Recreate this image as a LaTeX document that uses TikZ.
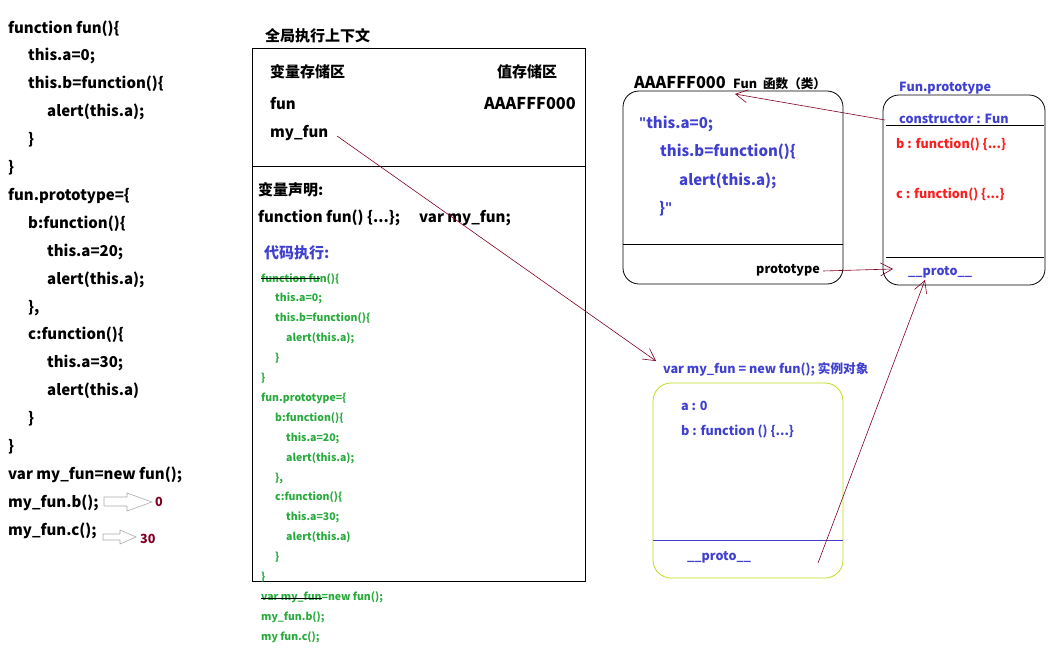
\documentclass[tikz,border=0pt]{standalone}
\usepackage{fontspec}
\setmainfont{Noto Sans CJK SC}
\newfontfamily\qf{Open Sans}
\usetikzlibrary{arrows.meta}
\definecolor{tblue}{RGB}{64,64,208}
\definecolor{tred}{RGB}{250,30,30}
\definecolor{dred}{RGB}{128,0,32}
\definecolor{tgreen}{RGB}{40,170,60}
\definecolor{ygreen}{RGB}{190,222,30}
\definecolor{hgray}{RGB}{170,170,170}
\begin{document}
\begin{tikzpicture}[x=1pt,y=-1pt,
  every node/.style={inner sep=0pt,anchor=base west},
  code/.style={font=\bfseries\fontsize{15}{18}\selectfont},
  gcode/.style={font=\bfseries\fontsize{10.5}{12}\selectfont,text=tgreen},
  lbl/.style={font=\bfseries\fontsize{12.6}{14}\selectfont},
  addr/.style={font=\bfseries\fontsize{16.3}{18}\selectfont},
  bcode/.style={code,text=tblue},
  blbl/.style={lbl,text=tblue},
  rlbl/.style={lbl,text=tred},
  box/.style={draw=black,line width=0.8pt},
  rbox/.style={draw=black,line width=0.8pt,rounded corners=16pt},
  link/.style={draw=dred,line width=0.6pt,-{Straight Barb[length=12pt,width=13pt]}},
  hollow/.style={draw=hgray,line width=0.6pt}]
\useasboundingbox (0,0) rectangle (1060,656);
% left code
\foreach \t/\x [count=\i from 0] in {
  {function fun()\{}/8, {this.a=0;}/28, {this.b=function()\{}/28, {alert(this.a);}/47,
  {\}}/28, {\}}/8, {fun.prototype=\{}/8, {b:function()\{}/28, {this.a=20;}/47,
  {alert(this.a);}/47, {\},}/28, {c:function()\{}/28, {this.a=30;}/47,
  {alert(this.a)}/47, {\}}/28, {\}}/8, {var my\_fun=new fun();}/8,
  {my\_fun.b();}/8, {my\_fun.c();}/8}
  \node[code] (l\i) at (\x,33+27.9*\i) {\t};
\draw[hollow] (104,497)--(127,497)--(127,493)--(152,502)--(127,511)--(127,506)--(104,506)--cycle;
\draw[hollow] (103,534)--(120,534)--(120,530)--(136,537)--(120,544)--(120,540)--(103,540)--cycle;
\node[lbl,text=dred] (r0) at (155,506) {0};
\node[lbl,text=dred] (r30) at (140,543) {30};
% middle
\node[code] (gtitle) at (265,41) {全局执行上下文};
\draw[box] (252,48) rectangle (585,581);
\draw[box] (252,166) -- (585,166);
\node[code] (varstore) at (270,77) {变量存储区};
\node[code] (valstore) at (497,77) {值存储区};
\node[code] (vfun) at (270,109) {fun};
\node[addr,anchor=base east] (vaddr) at (576,109) {AAAFFF000};
\node[code] (vmyfun) at (270,137) {my\_fun};
\node[code] (decl) at (258,195) {变量声明:};
\node[code] (decl2) at (258,222) {function fun() \{...\};\hspace{19pt}var my\_fun;};
\node[code,text=tblue] (exec) at (264,258) {代码执行:};
\foreach \t/\x [count=\i from 0] in {
  {function fun()\{}/261, {this.a=0;}/275, {this.b=function()\{}/275, {alert(this.a);}/286,
  {\}}/275, {\}}/261, {fun.prototype=\{}/261, {b:function()\{}/275, {this.a=20;}/286,
  {alert(this.a);}/286, {\},}/275, {c:function()\{}/275, {this.a=30;}/286,
  {alert(this.a)}/286, {\}}/275, {\}}/261, {var my\_fun=new fun();}/261,
  {my\_fun.b();}/261, {my fun.c();}/261}
  \node[gcode] (g\i) at (\x,282+19.9*\i) {\t};
\draw[black,line width=0.7pt] (261,278) -- (320,278);
\draw[black,line width=0.7pt] (261,598) -- (322,598);
% function object
\node[addr] (faddr) at (634,88) {AAAFFF000};
\node[lbl] (ffun) at (733,88) {Fun\hspace{6pt}函数（类）};
\draw[rbox] (623,91) rectangle (843,284);
\draw[box] (623,244) -- (843,244);
\node[bcode] (f1) at (639,128) {{\qf"}this.a=0;};
\node[bcode] (f2) at (660,156.5) {this.b=function()\{};
\node[bcode] (f3) at (679,185) {alert(this.a);};
\node[bcode] (f4) at (659,213.5) {\}{\qf"}};
\node[lbl] (fproto) at (756,273) {prototype};
% prototype object
\node[blbl] (ptitle) at (899,91) {Fun.prototype};
\draw[rbox] (883,95) rectangle (1045,285);
\draw[box] (886,125) -- (1044,125);
\draw[box] (886,257) -- (1044,257);
\node[blbl] (pcons) at (899,123) {constructor : Fun};
\node[rlbl] (pb) at (896,148) {b : function() \{...\}};
\node[rlbl] (pc) at (896,198) {c : function() \{...\}};
\node[blbl] (pproto) at (908,275) {\_\_proto\_\_};
% instance object
\node[blbl] (ititle) at (663,373) {var my\_fun = new fun(); 实例对象};
\draw[draw=ygreen,line width=0.8pt,rounded corners=18pt] (653,383) rectangle (843,578);
\draw[draw=tblue,line width=0.8pt] (653,540) -- (843,540);
\node[blbl] (ia) at (681,410) {a : 0};
\node[blbl] (ib) at (681,435) {b : function () \{...\}};
\node[blbl] (iproto) at (687,560) {\_\_proto\_\_};
% connectors
\coordinate (c1s) at (337,136);
\coordinate (c1e) at (656,361);
\coordinate (c2s) at (885,120);
\coordinate (c2e) at (735,94);
\coordinate (c3s) at (823,271);
\coordinate (c3e) at (893,269);
\coordinate (c4s) at (818,563);
\coordinate (c4e) at (925,280);
\draw[link] (c1s) -- (c1e);
\draw[link] (c2s) -- (c2e);
\draw[link] (c3s) -- (c3e);
\draw[link] (c4s) -- (c4e);
\end{tikzpicture}
\end{document}
